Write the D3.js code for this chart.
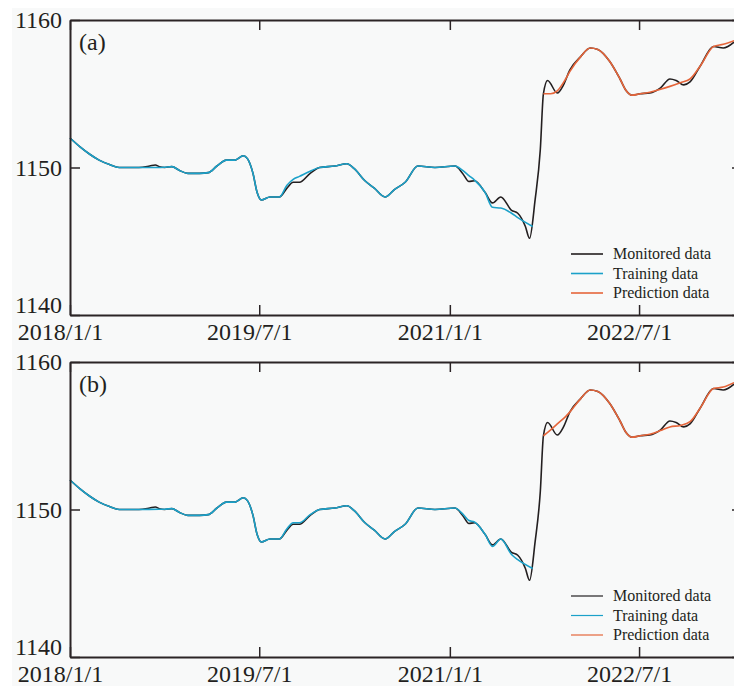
<!DOCTYPE html>
<html>
<head>
<meta charset="utf-8">
<script src="https://cdn.jsdelivr.net/npm/d3@7"></script>
<style>
  body { margin: 0; background: #ffffff; }
  svg { display: block; }
  .axis path, .axis line { stroke: #2b2426; }
  .axis text { font-family: "Liberation Serif", "Times New Roman", serif; font-size: 24px; fill: #231f20; }
</style>
</head>
<body>
<div id="chart"></div>
<script>
// ---- data ----
const xTickDates = ["2018-01-01", "2019-07-01", "2021-01-01", "2022-07-01"];
const yTickValues = [1140, 1150, 1160];
const panelLabels = ["(a)", "(b)"];
const legendNames = ["Monitored data", "Training data", "Prediction data"];

// monitored water level (same in both panels)
const monitoredDates = ["2018-01-01","2018-01-30","2018-02-27","2018-03-26","2018-04-25","2018-05-23","2018-07-19","2018-08-19","2018-09-04","2018-09-16","2018-10-01","2018-10-22","2018-11-13","2018-12-07","2019-01-10","2019-02-04","2019-03-01","2019-03-28","2019-04-22","2019-05-16","2019-05-28","2019-06-13","2019-06-25","2019-07-07","2019-08-01","2019-08-28","2019-09-19","2019-10-07","2019-10-25","2019-11-25","2019-12-22","2020-02-04","2020-03-10","2020-04-01","2020-05-01","2020-05-28","2020-06-28","2020-07-25","2020-08-25","2020-10-01","2020-11-19","2021-01-16","2021-02-07","2021-02-25","2021-03-13","2021-04-13","2021-05-04","2021-05-28","2021-06-28","2021-07-16","2021-08-07","2021-08-19","2021-09-04","2021-09-19","2021-09-28","2021-10-10","2021-11-07","2021-11-25","2021-12-13","2022-01-13","2022-02-10","2022-03-04","2022-04-07","2022-05-07","2022-05-25","2022-06-10","2022-07-04","2022-08-01","2022-09-01","2022-09-28","2022-10-16","2022-11-07","2022-11-25","2022-12-25","2023-02-01","2023-03-01","2023-04-01"];
const monitoredValues = [1152.0,1151.4,1150.9,1150.5,1150.2,1150.0,1150.0,1150.1,1150.17,1150.05,1150.0,1150.06,1149.8,1149.6,1149.6,1149.65,1150.1,1150.5,1150.5,1150.8,1150.6,1149.6,1148.3,1147.8,1148.0,1148.0,1148.6,1149.0,1149.0,1149.6,1150.0,1150.1,1150.25,1149.9,1149.1,1148.6,1148.0,1148.5,1149.0,1150.1,1150.0,1150.1,1149.6,1149.05,1149.1,1148.3,1147.6,1148.0,1147.1,1146.9,1146.0,1145.2,1147.8,1151.2,1155.0,1155.9,1155.05,1155.6,1156.6,1157.5,1158.1,1158.0,1157.2,1156.0,1155.2,1154.9,1155.0,1155.05,1155.4,1156.0,1155.9,1155.6,1155.8,1156.9,1158.2,1158.1,1158.5];

// training fit
const trainingDates = ["2018-01-01","2018-01-30","2018-02-27","2018-03-26","2018-04-25","2018-05-23","2018-07-19","2018-09-16","2018-10-01","2018-10-22","2018-11-13","2018-12-07","2019-01-10","2019-02-04","2019-03-01","2019-03-28","2019-04-22","2019-05-16","2019-05-28","2019-06-13","2019-06-25","2019-07-07","2019-08-01","2019-08-28","2019-09-19","2019-10-07","2019-10-25","2019-11-25","2019-12-22","2020-02-04","2020-03-10","2020-04-01","2020-05-01","2020-05-28","2020-06-28","2020-07-25","2020-08-25","2020-10-01","2020-11-19","2021-01-16","2021-02-07","2021-02-25","2021-03-13","2021-04-13","2021-05-04","2021-05-28","2021-06-28","2021-07-16","2021-08-28"];
const trainingA = [1152.0,1151.4,1150.9,1150.5,1150.2,1150.0,1150.0,1150.0,1150.02,1150.06,1149.8,1149.6,1149.6,1149.65,1150.1,1150.5,1150.5,1150.8,1150.6,1149.6,1148.3,1147.8,1148.0,1148.0,1148.8,1149.2,1149.4,1149.75,1150.0,1150.1,1150.25,1149.9,1149.1,1148.6,1148.0,1148.5,1149.0,1150.1,1150.0,1150.1,1149.8,1149.45,1149.15,1148.3,1147.3,1147.25,1146.9,1146.6,1146.0];
const trainingB = [1152.0,1151.4,1150.9,1150.5,1150.2,1150.0,1150.0,1150.02,1150.02,1150.06,1149.8,1149.6,1149.6,1149.65,1150.1,1150.5,1150.5,1150.8,1150.6,1149.6,1148.3,1147.8,1148.0,1148.0,1148.7,1149.1,1149.1,1149.65,1150.0,1150.1,1150.25,1149.9,1149.1,1148.6,1148.0,1148.5,1149.0,1150.1,1150.0,1150.1,1149.7,1149.25,1149.15,1148.3,1147.5,1148.0,1146.95,1146.6,1146.0];

// prediction
const predictionDates = ["2021-09-28","2021-10-19","2021-11-07","2021-12-01","2021-12-13","2022-01-13","2022-02-10","2022-03-04","2022-04-07","2022-05-07","2022-05-25","2022-06-10","2022-07-04","2022-08-01","2022-09-01","2022-09-28","2022-10-28","2022-11-25","2022-12-25","2023-02-01","2023-03-01","2023-04-01"];
const predictionA = [1155.0,1155.0,1155.2,1156.0,1156.5,1157.5,1158.1,1158.0,1157.2,1156.0,1155.2,1154.9,1155.0,1155.1,1155.3,1155.5,1155.75,1156.0,1156.9,1158.2,1158.35,1158.6];
const predictionB = [1155.0,1155.4,1155.8,1156.3,1156.6,1157.5,1158.1,1158.0,1157.2,1156.0,1155.2,1154.9,1155.0,1155.1,1155.35,1155.6,1155.7,1155.95,1156.9,1158.2,1158.3,1158.6];

const colors = ["#231f20", "#1ba1c9", "#e5653a"];

//sizing
const W = 734, H = 686;
const left = 70, right = 742;
const panelTops = [20, 362];
const panelH = 295;

const parse = d3.timeParse("%Y-%m-%d");
const fmt = d3.timeFormat("%Y/%-m/%-d");

const svg = d3.select("#chart").append("svg")
  .attr("width", W).attr("height", H);

// light grey paper
svg.append("rect").attr("x", 12).attr("y", 8)
  .attr("width", W - 12).attr("height", H - 8).attr("fill", "#f8f9f9");

const xScale = d3.scaleTime()
  .domain([parse("2018-01-01"), parse("2023-04-24")])
  .range([left, right]);

function toSeries(dates, vals) {
  return dates.map((d, i) => ({ date: parse(d), value: vals[i] }));
}

function drawPanel(p, training, prediction) {
  const top = panelTops[p];
  const yScale = d3.scaleLinear().domain([1140, 1160]).range([top + panelH, top]);
  const g = svg.append("g");

  const line = d3.line()
    .x(d => xScale(d.date))
    .y(d => yScale(d.value))
    .curve(d3.curveMonotoneX);

  const series = [
    toSeries(monitoredDates, monitoredValues),
    toSeries(trainingDates, training),
    toSeries(predictionDates, prediction)
  ];

  g.selectAll(".serie")
    .data(series)
    .enter().append("path")
    .attr("class", "serie")
    .attr("d", line)
    .attr("fill", "none")
    .attr("stroke", (d, i) => colors[i])
    .attr("stroke-width", 1.6)
    .attr("stroke-linejoin", "round");

  // axes (ticks pointing inward)
  const xTicks = xTickDates.map(parse);
  const xAxis = d3.axisBottom(xScale).tickValues(xTicks).tickFormat(fmt)
    .tickSizeInner(-10).tickSizeOuter(0).tickPadding(8);
  const bx = g.append("g").attr("class", "axis")
    .attr("transform", `translate(0,${top + panelH})`).call(xAxis);
  bx.selectAll(".tick text").attr("dx", -10);

  g.append("g").attr("class", "axis")
    .attr("transform", `translate(0,${top})`)
    .call(d3.axisTop(xScale).tickValues(xTicks).tickFormat("")
      .tickSizeInner(-10).tickSizeOuter(0));

  const yAxis = d3.axisLeft(yScale).tickValues(yTickValues).tickFormat(d3.format("d"))
    .tickSizeInner(-10).tickSizeOuter(0).tickPadding(8);
  const ly = g.append("g").attr("class", "axis")
    .attr("transform", `translate(${left},0)`).call(yAxis);
  ly.selectAll(".tick text").filter(d => d === 1140).attr("dy", "-0.1em");

  g.append("g").attr("class", "axis")
    .attr("transform", `translate(${right},0)`)
    .call(d3.axisRight(yScale).tickValues(yTickValues).tickFormat("")
      .tickSizeInner(-10).tickSizeOuter(0));

  g.selectAll(".axis .domain").attr("stroke-width", 2);
  g.selectAll(".axis .tick line").attr("stroke-width", 1.5);

  // panel label
  g.append("text")
    .attr("x", 79).attr("y", top + 30)
    .attr("font-family", "Liberation Serif, Times New Roman, serif")
    .attr("font-size", 24).attr("fill", "#231f20")
    .text(panelLabels[p]);

  // legend
  const leg = g.selectAll(".leg")
    .data(legendNames)
    .enter().append("g")
    .attr("class", "leg")
    .attr("transform", (d, i) => `translate(571,${top + 234 + i * 19.5})`);
  leg.append("line")
    .attr("x1", 0).attr("x2", 32)
    .attr("stroke", (d, i) => colors[i])
    .attr("stroke-width", p === 0 ? 1.6 : 1.2);
  leg.append("text")
    .attr("x", 42).attr("dy", "0.32em")
    .attr("font-family", "Liberation Serif, Times New Roman, serif")
    .attr("font-size", 16).attr("fill", "#231f20")
    .text(d => d);
}

drawPanel(0, trainingA, predictionA);
drawPanel(1, trainingB, predictionB);
</script>
</body>
</html>
